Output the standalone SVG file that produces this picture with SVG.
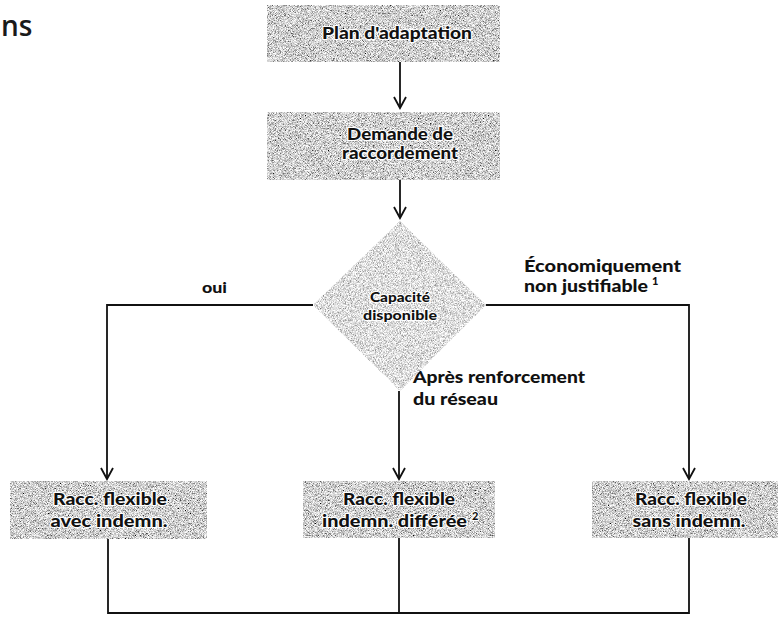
<svg xmlns="http://www.w3.org/2000/svg" width="778" height="624" viewBox="0 0 778 624">
  <style>
    .box { fill: #a2a2a2; filter: url(#grainDark); }
    .dia { fill: #bababa; filter: url(#grainLight); }
    .lbl { font-family: Lato, "Open Sans", "Liberation Sans", sans-serif; font-weight: 900; fill: #111; stroke: #fff; stroke-width: 2; paint-order: stroke; stroke-linejoin: round; }
    .note { font-family: Lato, "Open Sans", "Liberation Sans", sans-serif; font-weight: 900; fill: #111; }
    .edge { fill: none; stroke: #111; stroke-width: 1.8; }
  </style>
  <defs>
    <marker id="arrow" markerUnits="userSpaceOnUse" markerWidth="14" markerHeight="14" viewBox="-12 -7 14 14" refX="0" refY="0" orient="auto">
      <path d="M-11,-6 L0,0 L-11,6" fill="none" stroke="#111" stroke-width="1.8"/>
    </marker>
    <!-- speckled grey fill for the process boxes -->
    <filter id="grainDark" x="0" y="0" width="1" height="1">
      <feTurbulence type="fractalNoise" baseFrequency="1.4" numOctaves="1" seed="7" result="noise"/>
      <feColorMatrix in="noise" type="matrix" values="2.2 0 0 0 -0.47  2.2 0 0 0 -0.47  2.2 0 0 0 -0.47  0 0 0 0 1" result="grey"/>
      <feComposite in="grey" in2="SourceGraphic" operator="in"/>
    </filter>
    <!-- lighter speckled fill for the decision diamond -->
    <filter id="grainLight" x="0" y="0" width="1" height="1">
      <feTurbulence type="fractalNoise" baseFrequency="1.4" numOctaves="1" seed="3" result="noise"/>
      <feColorMatrix in="noise" type="matrix" values="1.8 0 0 0 -0.17  1.8 0 0 0 -0.17  1.8 0 0 0 -0.17  0 0 0 0 1" result="grey"/>
      <feComposite in="grey" in2="SourceGraphic" operator="in"/>
    </filter>
  </defs>
  <rect width="778" height="624" fill="#fff"/>

  <!-- heading fragment at the left edge -->
  <text x="1" y="36" font-family="'Open Sans', 'Liberation Sans', sans-serif" font-weight="600" font-size="28" fill="#1a1a1a">ns</text>

  <g id="connectors">
    <path class="edge" d="M400,62 V108" marker-end="url(#arrow)"/>
    <path class="edge" d="M400,180 V218" marker-end="url(#arrow)"/>
    <path class="edge" d="M313,305 H107 V479" marker-end="url(#arrow)"/>
    <path class="edge" d="M486,305 H689 V479" marker-end="url(#arrow)"/>
    <path class="edge" d="M399,391 V479" marker-end="url(#arrow)"/>
    <path class="edge" d="M108,539 V613 H689 V538"/>
    <path class="edge" d="M399,538 V613"/>
    <text class="note" x="202" y="293" font-size="15" textLength="25" lengthAdjust="spacingAndGlyphs">oui</text>
    <text class="note" x="524" y="272" font-size="16" textLength="157" lengthAdjust="spacingAndGlyphs">Économiquement</text>
    <text class="note" x="524" y="292" font-size="16" textLength="124" lengthAdjust="spacingAndGlyphs">non justifiable</text>
    <text class="note" x="652" y="285" font-size="11">1</text>
    <text class="note" x="413" y="383" font-size="16" textLength="172" lengthAdjust="spacingAndGlyphs">Après renforcement</text>
    <text class="note" x="413" y="405" font-size="16" textLength="85" lengthAdjust="spacingAndGlyphs">du réseau</text>
  </g>

  <g id="plan">
    <rect class="box" x="267" y="5" width="233" height="57"/>
    <text class="lbl" x="397" y="39" font-size="16" text-anchor="middle" textLength="150" lengthAdjust="spacingAndGlyphs">Plan d'adaptation</text>
  </g>

  <g id="demande">
    <rect class="box" x="267" y="112" width="233" height="68"/>
    <text class="lbl" x="400" y="140" font-size="16" text-anchor="middle" textLength="106" lengthAdjust="spacingAndGlyphs">Demande de</text>
    <text class="lbl" x="400" y="159" font-size="16" text-anchor="middle" textLength="116" lengthAdjust="spacingAndGlyphs">raccordement</text>
  </g>

  <g id="capacite">
    <polygon class="dia" points="400,221 486,305 400,391 313,305"/>
    <text class="lbl" x="400" y="302" font-size="13" text-anchor="middle" textLength="60" lengthAdjust="spacingAndGlyphs">Capacité</text>
    <text class="lbl" x="400" y="320" font-size="13" text-anchor="middle" textLength="74" lengthAdjust="spacingAndGlyphs">disponible</text>
  </g>

  <g id="avec">
    <rect class="box" x="10" y="481" width="197" height="58"/>
    <text class="lbl" x="110" y="505" font-size="16" text-anchor="middle" textLength="114" lengthAdjust="spacingAndGlyphs">Racc. flexible</text>
    <text class="lbl" x="109" y="527" font-size="16" text-anchor="middle" textLength="117" lengthAdjust="spacingAndGlyphs">avec indemn.</text>
  </g>

  <g id="differee">
    <rect class="box" x="303" y="481" width="192" height="57"/>
    <text class="lbl" x="399" y="505" font-size="16" text-anchor="middle" textLength="112" lengthAdjust="spacingAndGlyphs">Racc. flexible</text>
    <text class="lbl" x="322" y="527" font-size="16" textLength="145" lengthAdjust="spacingAndGlyphs">indemn. différée</text>
    <text class="lbl" x="472" y="520" font-size="11">2</text>
  </g>

  <g id="sans">
    <rect class="box" x="592" y="481" width="186" height="57"/>
    <text class="lbl" x="691" y="505" font-size="16" text-anchor="middle" textLength="112" lengthAdjust="spacingAndGlyphs">Racc. flexible</text>
    <text class="lbl" x="689" y="527" font-size="16" text-anchor="middle" textLength="113" lengthAdjust="spacingAndGlyphs">sans indemn.</text>
  </g>
</svg>
